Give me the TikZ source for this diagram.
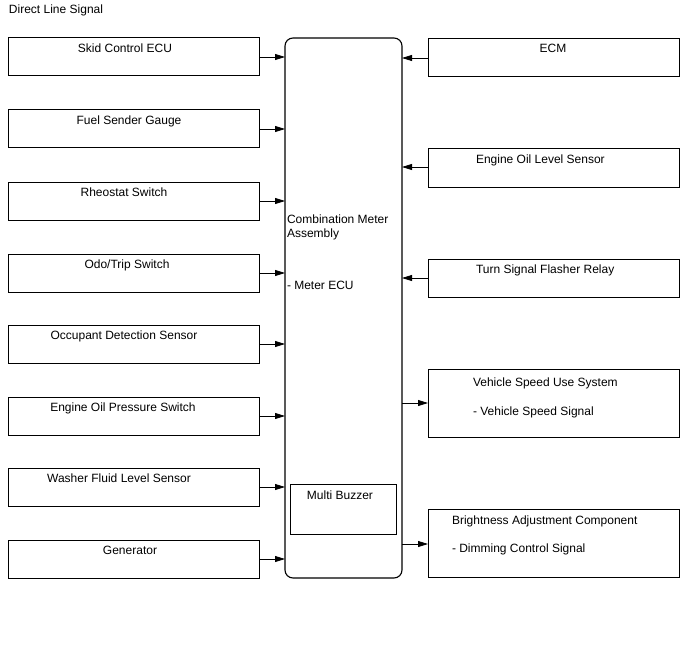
\documentclass[tikz,border=0pt]{standalone}
\usepackage{fontspec}
\setmainfont{Liberation Sans}
\usetikzlibrary{arrows.meta}
\begin{document}
\begin{tikzpicture}[x=1pt,y=-1pt,
  every node/.style={font=\fontsize{12}{14}\selectfont, inner sep=0pt, outer sep=0pt},
  boxL/.style={draw, line width=1pt, minimum width=251pt, minimum height=38pt, anchor=north west},
  boxR/.style={draw, line width=1pt, minimum width=251pt, anchor=north west},
  txt/.style={anchor=base},
  txtw/.style={anchor=base west},
  sig/.style={line width=0.8pt, -{Triangle[length=10pt,width=6pt]}}]
\path[use as bounding box] (0,0) rectangle (688,658);
\node[txtw] (title) at (9,14) {Direct Line Signal};
% main box
\node[draw, line width=1.1pt, rounded corners=8pt, minimum width=117pt, minimum height=540pt, anchor=north west] (main) at (285,38) {};
\node[txtw] (m1) at (287,223) {Combination Meter};
\node[txtw] (m2) at (287,237) {Assembly};
\node[txtw] (m3) at (287,289) {- Meter ECU};
\node[draw, line width=1pt, minimum width=106pt, minimum height=50pt, anchor=north west] (buz) at (290,484) {};
\node[txt] (buzt) at (340,499) {Multi Buzzer};
% left boxes
\foreach \i/\y/\cx/\t in {1/38/125/{Skid Control ECU}, 2/110/129/{Fuel Sender Gauge}, 3/182/124/{Rheostat Switch}, 4/254/127/{Odo/Trip Switch}, 5/325/124/{Occupant Detection Sensor}, 6/397/123/{Engine Oil Pressure Switch}, 7/468/119/{Washer Fluid Level Sensor}, 8/540/130/{Generator}}{
  \node[boxL] (L\i) at (8,\y) {};
  \node[txt] (Lt\i) at (\cx,\y+14.5) {\t};
  \draw[sig] (L\i.east) -- (L\i.east -| main.west);
}
% right boxes
\node[boxR, minimum height=38pt] (R1) at (428,39) {};
\node[txt] (Rt1) at (553,52.5) {ECM};
\node[boxR, minimum height=38pt] (R2) at (428,149) {};
\node[txtw] (Rt2) at (476,164) {Engine Oil Level Sensor};
\node[boxR, minimum height=38pt] (R3) at (428,259) {};
\node[txtw] (Rt3) at (476,273) {Turn Signal Flasher Relay};
\node[boxR, minimum height=68pt] (R4) at (428,369) {};
\node[txtw] (Rt4a) at (473,386) {Vehicle Speed Use System};
\node[txtw] (Rt4b) at (473,415) {- Vehicle Speed Signal};
\node[boxR, minimum height=68pt] (R5) at (428,509) {};
\node[txtw] (Rt5a) at (452,524) {Brightness Adjustment Component};
\node[txtw] (Rt5b) at (452,552) {- Dimming Control Signal};
\coordinate (c1) at (428,58);
\coordinate (c2) at (428,167);
\coordinate (c3) at (428,278);
\coordinate (c4) at (428,403);
\coordinate (c5) at (428,544);
\draw[sig] (c1) -- (c1 -| main.east);
\draw[sig] (c2) -- (c2 -| main.east);
\draw[sig] (c3) -- (c3 -| main.east);
\draw[sig] (c4 -| main.east) -- (c4);
\draw[sig] (c5 -| main.east) -- (c5);
\end{tikzpicture}
\end{document}
